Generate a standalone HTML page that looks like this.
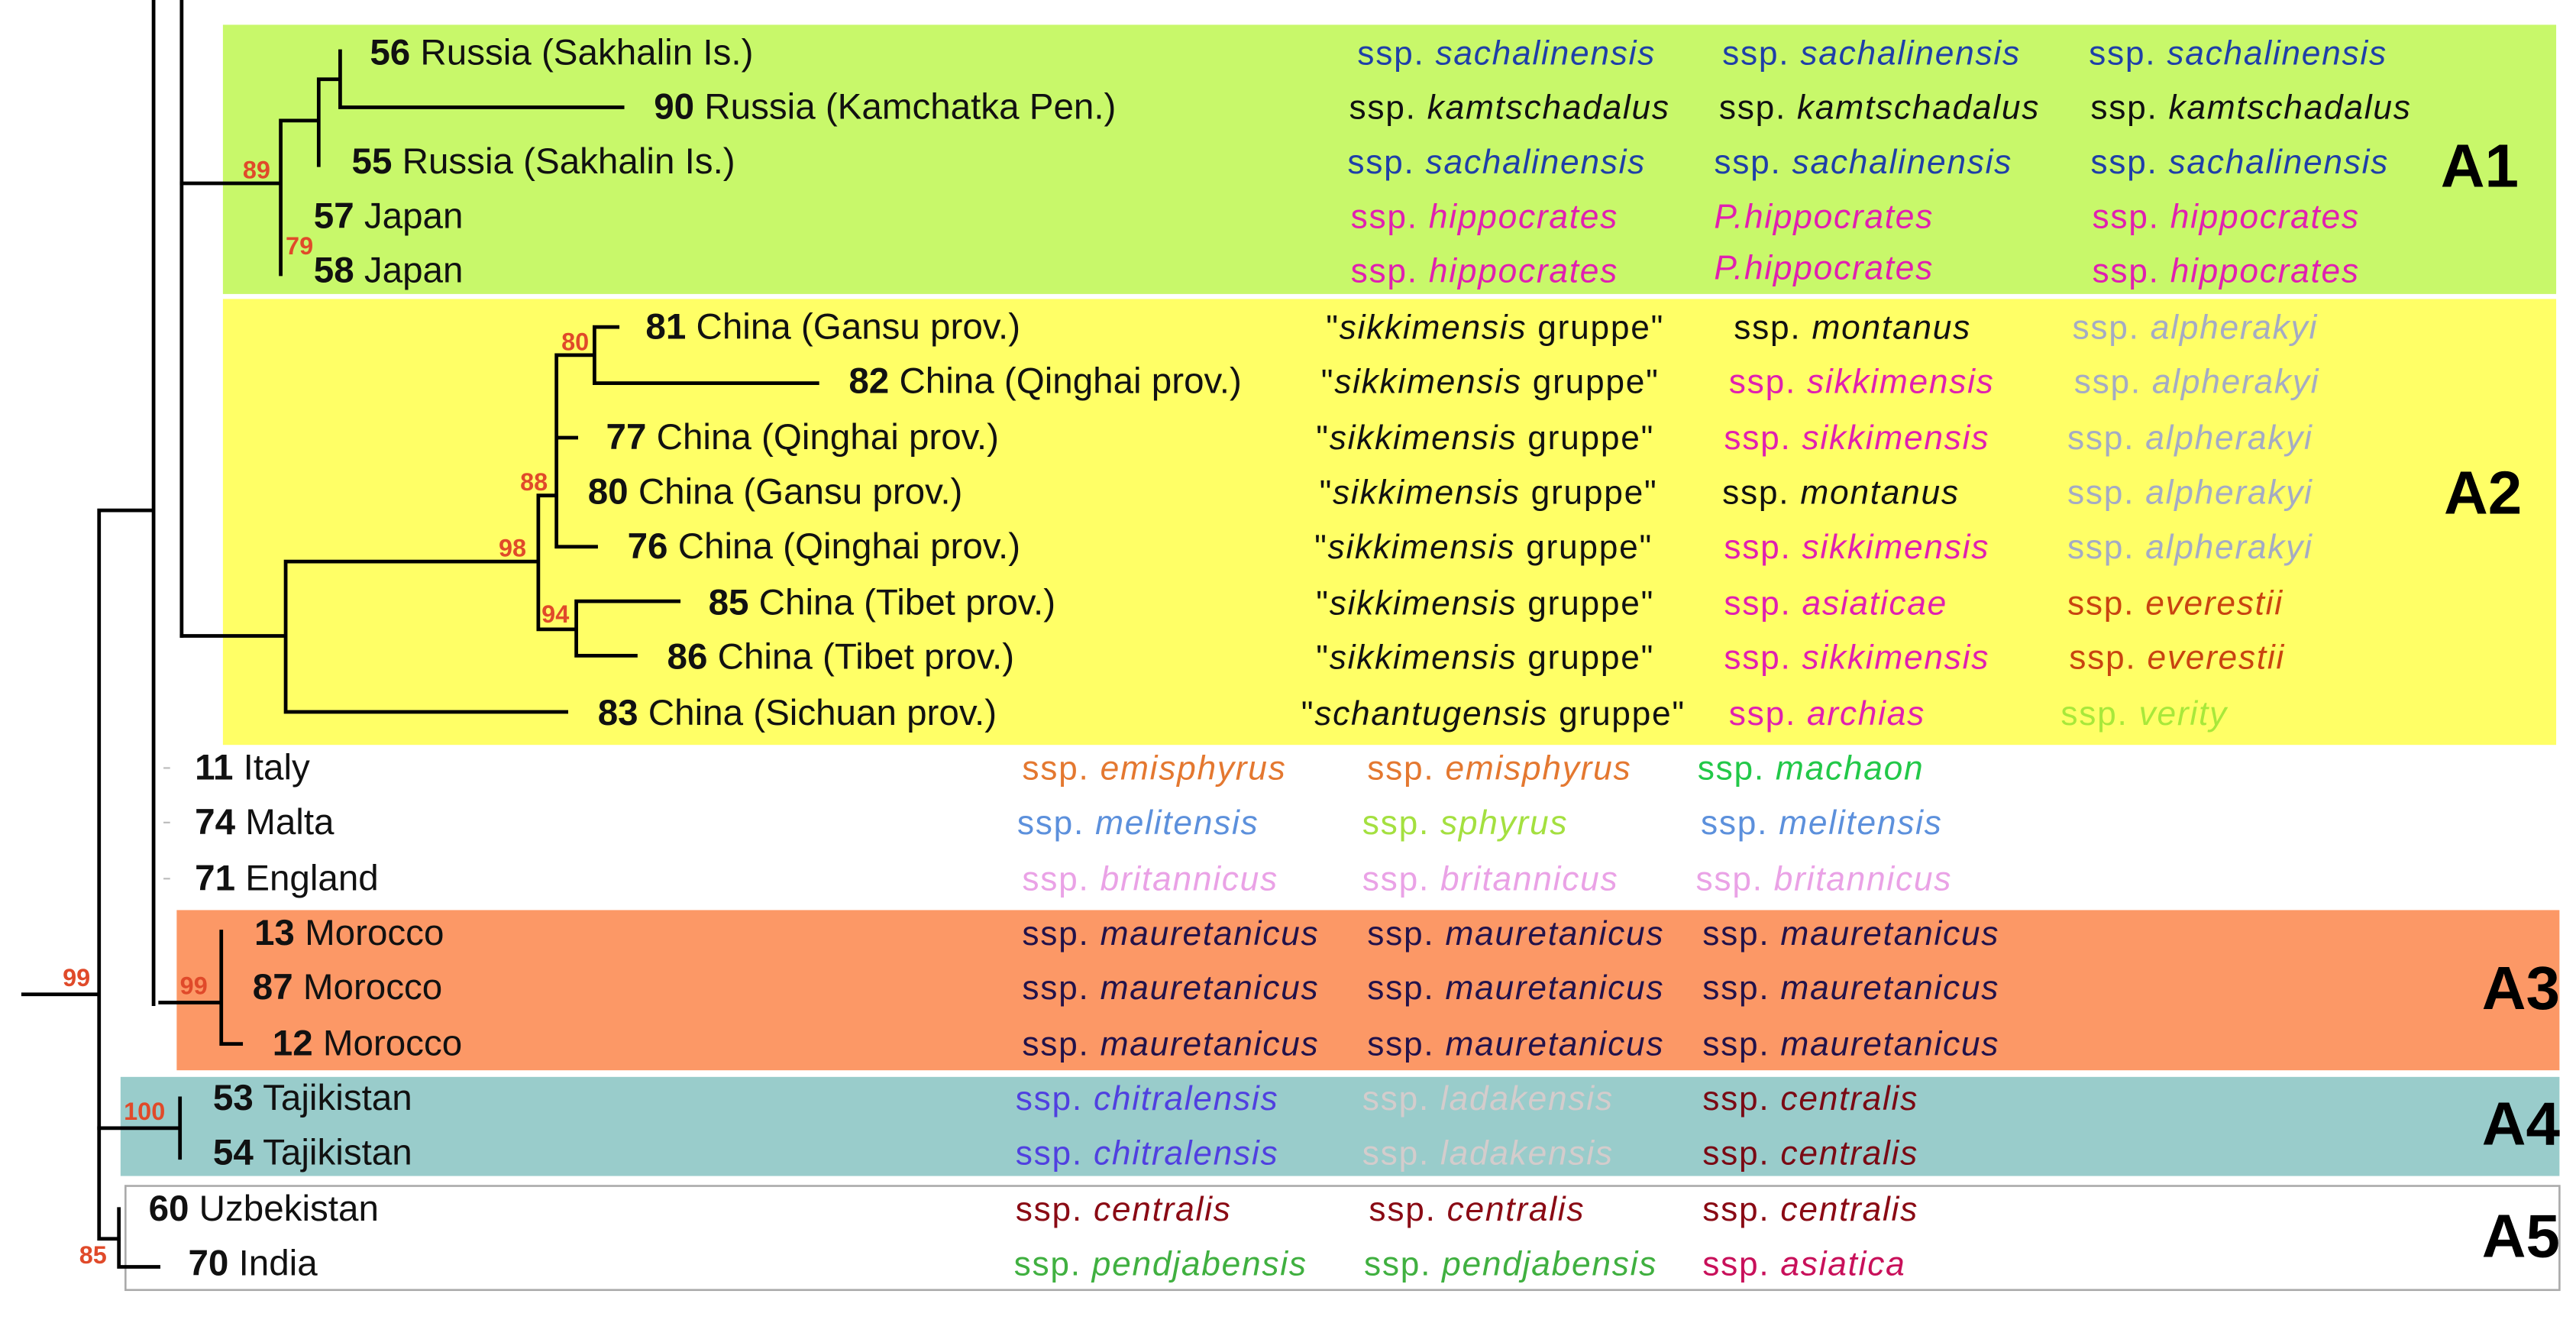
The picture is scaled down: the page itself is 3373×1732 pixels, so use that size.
<!DOCTYPE html>
<html><head><meta charset="utf-8"><style>
html,body{margin:0;padding:0;background:#fff;}
svg{display:block;}
text{font-family:"Liberation Sans",sans-serif;}
.l{font-size:22px;fill:#111;}
.l tspan.b{font-weight:bold;}
.c{font-size:20.5px;letter-spacing:0.8px;}
.bs{font-size:15px;font-weight:bold;fill:#e04a2a;}
.A{font-size:37px;font-weight:bold;fill:#000;}
</style></head><body>
<svg width="3373" height="1732" viewBox="0 0 1560 801" preserveAspectRatio="none" xmlns="http://www.w3.org/2000/svg">
<rect x="0" y="0" width="1560" height="801" fill="#fff"/>
<rect x="135" y="15" width="1413" height="163" fill="#c8f86a"/>
<rect x="135" y="181" width="1413" height="270" fill="#ffff66"/>
<rect x="107" y="551" width="1443" height="97" fill="#fc9866"/>
<rect x="73" y="652" width="1477" height="60" fill="#99cccb"/>
<rect x="76" y="718" width="1474" height="63" fill="#fff" stroke="#aaa" stroke-width="1.2"/>
<g stroke="#000" stroke-width="2.2" fill="none" stroke-linecap="square">
<path d="M14 602 H60 M60 309 V750 H72 M60 309 H93 M93 0 V608 M110 0 V385 M97 607 H133"/>
<path d="M110 111 H170 M170 73 V166 M170 73 H193 M193 48 V100 M193 48 H206 M206 31 V65 M206 65 H377"/>
<path d="M110 385 H173 M173 340 V431 M173 340 H326 M173 431 H343 M326 300 V381 M326 300 H337 M337 215 V331 M337 215 H360 M360 198 V232 M360 198 H374 M360 232 H495 M337 265 H349 M337 331 H361 M326 381 H349 M349 364 V397 M349 364 H411 M349 397 H385"/>
<path d="M134 564 V632 H146 M60 683 H109 M109 665 V701 M72 732 V767 H96"/>
</g>
<g stroke="#bbb" stroke-width="1"><path d="M99 465 H103 M99 498 H103 M99 532 H103"/></g>
<text class="bs" x="147" y="108">89</text>
<text class="bs" x="173" y="154">79</text>
<text class="bs" x="340" y="212">80</text>
<text class="bs" x="315" y="297">88</text>
<text class="bs" x="302" y="337">98</text>
<text class="bs" x="328" y="377">94</text>
<text class="bs" x="38" y="597">99</text>
<text class="bs" x="109" y="602">99</text>
<text class="bs" x="75" y="678">100</text>
<text class="bs" x="48" y="765">85</text>
<g class="l">
<text x="224" y="39"><tspan class="b">56</tspan> Russia (Sakhalin Is.)</text>
<text x="396" y="72"><tspan class="b">90</tspan> Russia (Kamchatka Pen.)</text>
<text x="213" y="105"><tspan class="b">55</tspan> Russia (Sakhalin Is.)</text>
<text x="190" y="138"><tspan class="b">57</tspan> Japan</text>
<text x="190" y="171"><tspan class="b">58</tspan> Japan</text>
<text x="391" y="205"><tspan class="b">81</tspan> China (Gansu prov.)</text>
<text x="514" y="238"><tspan class="b">82</tspan> China (Qinghai prov.)</text>
<text x="367" y="272"><tspan class="b">77</tspan> China (Qinghai prov.)</text>
<text x="356" y="305"><tspan class="b">80</tspan> China (Gansu prov.)</text>
<text x="380" y="338"><tspan class="b">76</tspan> China (Qinghai prov.)</text>
<text x="429" y="372"><tspan class="b">85</tspan> China (Tibet prov.)</text>
<text x="404" y="405"><tspan class="b">86</tspan> China (Tibet prov.)</text>
<text x="362" y="439"><tspan class="b">83</tspan> China (Sichuan prov.)</text>
<text x="118" y="472"><tspan class="b">11</tspan> Italy</text>
<text x="118" y="505"><tspan class="b">74</tspan> Malta</text>
<text x="118" y="539"><tspan class="b">71</tspan> England</text>
<text x="154" y="572"><tspan class="b">13</tspan> Morocco</text>
<text x="153" y="605"><tspan class="b">87</tspan> Morocco</text>
<text x="165" y="639"><tspan class="b">12</tspan> Morocco</text>
<text x="129" y="672"><tspan class="b">53</tspan> Tajikistan</text>
<text x="129" y="705"><tspan class="b">54</tspan> Tajikistan</text>
<text x="90" y="739"><tspan class="b">60</tspan> Uzbekistan</text>
<text x="114" y="772"><tspan class="b">70</tspan> India</text>
</g>
<g class="c">
<text x="822" y="39" fill="#1f3fa8">ssp. <tspan font-style="italic">sachalinensis</tspan></text>
<text x="1043" y="39" fill="#1f3fa8">ssp. <tspan font-style="italic">sachalinensis</tspan></text>
<text x="1265" y="39" fill="#1f3fa8">ssp. <tspan font-style="italic">sachalinensis</tspan></text>
<text x="817" y="72" fill="#111">ssp. <tspan font-style="italic">kamtschadalus</tspan></text>
<text x="1041" y="72" fill="#111">ssp. <tspan font-style="italic">kamtschadalus</tspan></text>
<text x="1266" y="72" fill="#111">ssp. <tspan font-style="italic">kamtschadalus</tspan></text>
<text x="816" y="105" fill="#1f3fa8">ssp. <tspan font-style="italic">sachalinensis</tspan></text>
<text x="1038" y="105" fill="#1f3fa8">ssp. <tspan font-style="italic">sachalinensis</tspan></text>
<text x="1266" y="105" fill="#1f3fa8">ssp. <tspan font-style="italic">sachalinensis</tspan></text>
<text x="818" y="138" fill="#e020b0">ssp. <tspan font-style="italic">hippocrates</tspan></text>
<text x="1038" y="138" fill="#e020b0" font-style="italic">P.hippocrates</text>
<text x="1267" y="138" fill="#e020b0">ssp. <tspan font-style="italic">hippocrates</tspan></text>
<text x="818" y="171" fill="#e020b0">ssp. <tspan font-style="italic">hippocrates</tspan></text>
<text x="1038" y="169" fill="#e020b0" font-style="italic">P.hippocrates</text>
<text x="1267" y="171" fill="#e020b0">ssp. <tspan font-style="italic">hippocrates</tspan></text>
<g fill="#111">
<text x="803" y="205">"<tspan font-style="italic">sikkimensis</tspan> gruppe"</text>
<text x="800" y="238">"<tspan font-style="italic">sikkimensis</tspan> gruppe"</text>
<text x="797" y="272">"<tspan font-style="italic">sikkimensis</tspan> gruppe"</text>
<text x="799" y="305">"<tspan font-style="italic">sikkimensis</tspan> gruppe"</text>
<text x="796" y="338">"<tspan font-style="italic">sikkimensis</tspan> gruppe"</text>
<text x="797" y="372">"<tspan font-style="italic">sikkimensis</tspan> gruppe"</text>
<text x="797" y="405">"<tspan font-style="italic">sikkimensis</tspan> gruppe"</text>
<text x="788" y="439">"<tspan font-style="italic">schantugensis</tspan> gruppe"</text>
</g>
<text x="1050" y="205" fill="#111">ssp. <tspan font-style="italic">montanus</tspan></text>
<text x="1047" y="238" fill="#e020b0">ssp. <tspan font-style="italic">sikkimensis</tspan></text>
<text x="1044" y="272" fill="#e020b0">ssp. <tspan font-style="italic">sikkimensis</tspan></text>
<text x="1043" y="305" fill="#111">ssp. <tspan font-style="italic">montanus</tspan></text>
<text x="1044" y="338" fill="#e020b0">ssp. <tspan font-style="italic">sikkimensis</tspan></text>
<text x="1044" y="372" fill="#e020b0">ssp. <tspan font-style="italic">asiaticae</tspan></text>
<text x="1044" y="405" fill="#e020b0">ssp. <tspan font-style="italic">sikkimensis</tspan></text>
<text x="1047" y="439" fill="#e020b0">ssp. <tspan font-style="italic">archias</tspan></text>
<g fill="#a4abc4">
<text x="1255" y="205">ssp. <tspan font-style="italic">alpherakyi</tspan></text>
<text x="1256" y="238">ssp. <tspan font-style="italic">alpherakyi</tspan></text>
<text x="1252" y="272">ssp. <tspan font-style="italic">alpherakyi</tspan></text>
<text x="1252" y="305">ssp. <tspan font-style="italic">alpherakyi</tspan></text>
<text x="1252" y="338">ssp. <tspan font-style="italic">alpherakyi</tspan></text>
</g>
<text x="1252" y="372" fill="#c84410">ssp. <tspan font-style="italic">everestii</tspan></text>
<text x="1253" y="405" fill="#c84410">ssp. <tspan font-style="italic">everestii</tspan></text>
<text x="1248" y="439" fill="#a8e83a">ssp. <tspan font-style="italic">verity</tspan></text>
<text x="619" y="472" fill="#e47830">ssp. <tspan font-style="italic">emisphyrus</tspan></text>
<text x="828" y="472" fill="#e47830">ssp. <tspan font-style="italic">emisphyrus</tspan></text>
<text x="1028" y="472" fill="#22c848">ssp. <tspan font-style="italic">machaon</tspan></text>
<text x="616" y="505" fill="#5c90dc">ssp. <tspan font-style="italic">melitensis</tspan></text>
<text x="825" y="505" fill="#a4e040">ssp. <tspan font-style="italic">sphyrus</tspan></text>
<text x="1030" y="505" fill="#5c90dc">ssp. <tspan font-style="italic">melitensis</tspan></text>
<text x="619" y="539" fill="#eaa2e6">ssp. <tspan font-style="italic">britannicus</tspan></text>
<text x="825" y="539" fill="#eaa2e6">ssp. <tspan font-style="italic">britannicus</tspan></text>
<text x="1027" y="539" fill="#eaa2e6">ssp. <tspan font-style="italic">britannicus</tspan></text>
<g fill="#22124a">
<text x="619" y="572">ssp. <tspan font-style="italic">mauretanicus</tspan></text>
<text x="828" y="572">ssp. <tspan font-style="italic">mauretanicus</tspan></text>
<text x="1031" y="572">ssp. <tspan font-style="italic">mauretanicus</tspan></text>
<text x="619" y="605">ssp. <tspan font-style="italic">mauretanicus</tspan></text>
<text x="828" y="605">ssp. <tspan font-style="italic">mauretanicus</tspan></text>
<text x="1031" y="605">ssp. <tspan font-style="italic">mauretanicus</tspan></text>
<text x="619" y="639">ssp. <tspan font-style="italic">mauretanicus</tspan></text>
<text x="828" y="639">ssp. <tspan font-style="italic">mauretanicus</tspan></text>
<text x="1031" y="639">ssp. <tspan font-style="italic">mauretanicus</tspan></text>
</g>
<text x="615" y="672" fill="#5040e0">ssp. <tspan font-style="italic">chitralensis</tspan></text>
<text x="825" y="672" fill="#d4cccc">ssp. <tspan font-style="italic">ladakensis</tspan></text>
<text x="1031" y="672" fill="#7a0a14">ssp. <tspan font-style="italic">centralis</tspan></text>
<text x="615" y="705" fill="#5040e0">ssp. <tspan font-style="italic">chitralensis</tspan></text>
<text x="825" y="705" fill="#d4cccc">ssp. <tspan font-style="italic">ladakensis</tspan></text>
<text x="1031" y="705" fill="#7a0a14">ssp. <tspan font-style="italic">centralis</tspan></text>
<text x="615" y="739" fill="#8a0a14">ssp. <tspan font-style="italic">centralis</tspan></text>
<text x="829" y="739" fill="#8a0a14">ssp. <tspan font-style="italic">centralis</tspan></text>
<text x="1031" y="739" fill="#8a0a14">ssp. <tspan font-style="italic">centralis</tspan></text>
<text x="614" y="772" fill="#40b040">ssp. <tspan font-style="italic">pendjabensis</tspan></text>
<text x="826" y="772" fill="#40b040">ssp. <tspan font-style="italic">pendjabensis</tspan></text>
<text x="1031" y="772" fill="#c8105a">ssp. <tspan font-style="italic">asiatica</tspan></text>
</g>
<text class="A" x="1478" y="113">A1</text>
<text class="A" x="1480" y="311">A2</text>
<text class="A" x="1503" y="611">A3</text>
<text class="A" x="1503" y="693">A4</text>
<text class="A" x="1503" y="761">A5</text>
</svg>
</body></html>
